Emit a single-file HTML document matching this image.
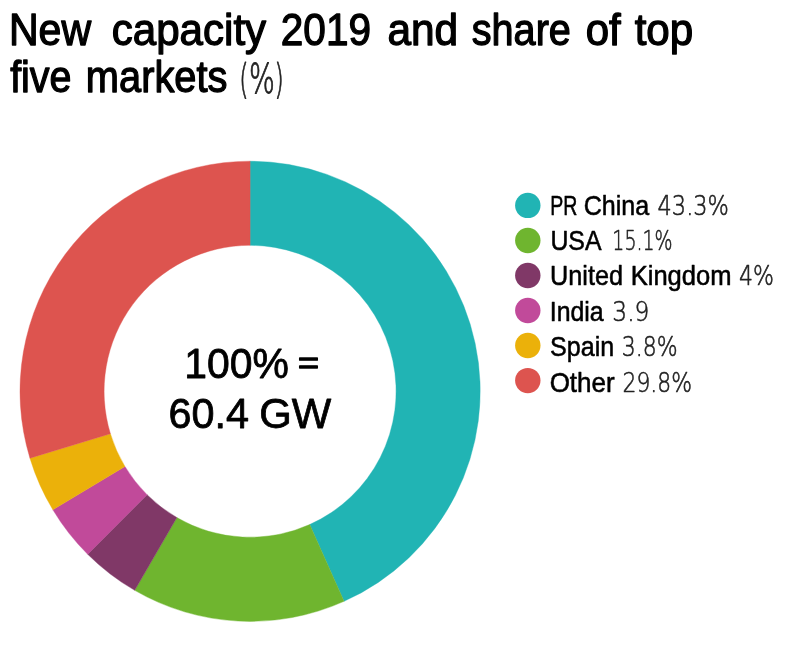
<!DOCTYPE html>
<html lang="en"><head><meta charset="utf-8"><title>New capacity 2019 and share of top five markets</title>
<style>
html,body{margin:0;padding:0;background:#fff;}
body{width:800px;height:647px;overflow:hidden;}
svg{display:block;}
.t{font-family:"Liberation Sans",Arial,Helvetica,sans-serif;font-weight:400;font-size:44.5px;fill:#000;stroke:#000;stroke-width:1.3px;stroke-linejoin:round;}
.p{font-family:"DejaVu Sans","Liberation Sans",Arial,Helvetica,sans-serif;font-weight:200;font-size:40.5px;fill:#222;stroke:#222;stroke-width:0.9px;stroke-linejoin:round;}
.c{font-family:"Liberation Sans",Arial,Helvetica,sans-serif;font-weight:400;font-size:42px;fill:#000;stroke:#000;stroke-width:0.8px;stroke-linejoin:round;}
.e{font-family:"Liberation Sans",Arial,Helvetica,sans-serif;font-weight:400;font-size:29.5px;fill:#000;stroke:#000;stroke-width:1.3px;stroke-linejoin:round;}
.m{font-family:"Liberation Sans",Arial,Helvetica,sans-serif;font-weight:400;font-size:27.8px;fill:#000;stroke:#000;stroke-width:0.55px;stroke-linejoin:round;}
.l{font-family:"DejaVu Sans","Liberation Sans",Arial,Helvetica,sans-serif;font-weight:200;font-size:27.4px;fill:#222;stroke:#222;stroke-width:0.6px;stroke-linejoin:round;}
</style></head>
<body>
<svg width="800" height="647" viewBox="0 0 800 647">
<rect width="800" height="647" fill="#fff"/>
<path d="M250.10 161.20A230.1 230.1 0 0 1 344.06 601.34L309.72 524.57A146.0 146.0 0 0 0 250.10 245.30Z" fill="#21B4B4" stroke="#21B4B4" stroke-width="0.4"/>
<path d="M344.06 601.34A230.1 230.1 0 0 1 134.70 590.37L176.88 517.61A146.0 146.0 0 0 0 309.72 524.57Z" fill="#6FB52F" stroke="#6FB52F" stroke-width="0.4"/>
<path d="M134.70 590.37A230.1 230.1 0 0 1 87.68 554.29L147.04 494.72A146.0 146.0 0 0 0 176.88 517.61Z" fill="#803867" stroke="#803867" stroke-width="0.4"/>
<path d="M87.68 554.29A230.1 230.1 0 0 1 52.87 509.81L124.95 466.50A146.0 146.0 0 0 0 147.04 494.72Z" fill="#C14A9A" stroke="#C14A9A" stroke-width="0.4"/>
<path d="M52.87 509.81A230.1 230.1 0 0 1 29.94 458.19L110.41 433.74A146.0 146.0 0 0 0 124.95 466.50Z" fill="#EBB10A" stroke="#EBB10A" stroke-width="0.4"/>
<path d="M29.94 458.19A230.1 230.1 0 0 1 250.10 161.20L250.10 245.30A146.0 146.0 0 0 0 110.41 433.74Z" fill="#DD544F" stroke="#DD544F" stroke-width="0.4"/>
<circle cx="527.8" cy="205.4" r="12.7" fill="#21B4B4"/>
<circle cx="527.8" cy="240.44" r="12.7" fill="#6FB52F"/>
<circle cx="527.8" cy="275.48" r="12.7" fill="#803867"/>
<circle cx="527.8" cy="310.52" r="12.7" fill="#C14A9A"/>
<circle cx="527.8" cy="345.56" r="12.7" fill="#EBB10A"/>
<circle cx="527.8" cy="380.6" r="12.7" fill="#DD544F"/>
<text><tspan x="8.88" y="44.7" textLength="82.17" lengthAdjust="spacingAndGlyphs" class="t">New</tspan> <tspan x="111.70" y="44.7" textLength="154.44" lengthAdjust="spacingAndGlyphs" class="t">capacity</tspan> <tspan x="280.83" y="44.7" textLength="90.11" lengthAdjust="spacingAndGlyphs" class="t">2019</tspan> <tspan x="387.45" y="44.7" textLength="70.77" lengthAdjust="spacingAndGlyphs" class="t">and</tspan> <tspan x="471.76" y="44.7" textLength="99.15" lengthAdjust="spacingAndGlyphs" class="t">share</tspan> <tspan x="585.71" y="44.7" textLength="35.04" lengthAdjust="spacingAndGlyphs" class="t">of</tspan> <tspan x="634.65" y="44.7" textLength="58.61" lengthAdjust="spacingAndGlyphs" class="t">top</tspan></text>
<text><tspan x="10.15" y="91.8" textLength="61.35" lengthAdjust="spacingAndGlyphs" class="t">five</tspan> <tspan x="85.86" y="91.8" textLength="141.61" lengthAdjust="spacingAndGlyphs" class="t">markets</tspan> <tspan x="239.20" y="93" textLength="9.28" lengthAdjust="spacingAndGlyphs" class="p">(</tspan> <tspan x="249.01" y="93" textLength="25.81" lengthAdjust="spacingAndGlyphs" class="p">%</tspan> <tspan x="274.40" y="93" textLength="9.28" lengthAdjust="spacingAndGlyphs" class="p">)</tspan></text>
<text><tspan x="184.28" y="378" textLength="104.63" lengthAdjust="spacingAndGlyphs" class="c">100%</tspan> <tspan x="298.13" y="373.1" textLength="21.02" lengthAdjust="spacingAndGlyphs" class="e">=</tspan></text>
<text><tspan x="168.43" y="427.6" textLength="80.52" lengthAdjust="spacingAndGlyphs" class="c">60.4</tspan> <tspan x="259.21" y="427.6" textLength="72.04" lengthAdjust="spacingAndGlyphs" class="c">GW</tspan></text>
<text><tspan x="550.17" y="214.5" textLength="27.11" lengthAdjust="spacingAndGlyphs" class="m">PR</tspan> <tspan x="583.67" y="214.5" textLength="65.46" lengthAdjust="spacingAndGlyphs" class="m">China</tspan> <tspan x="657.58" y="214.5" textLength="71.38" lengthAdjust="spacingAndGlyphs" class="l">43.3%</tspan></text>
<text><tspan x="550.39" y="249.6" textLength="51.13" lengthAdjust="spacingAndGlyphs" class="m">USA</tspan> <tspan x="612.32" y="249.6" textLength="60.28" lengthAdjust="spacingAndGlyphs" class="l">15.1%</tspan></text>
<text><tspan x="550.06" y="285.4" textLength="72.89" lengthAdjust="spacingAndGlyphs" class="m">United</tspan> <tspan x="630.69" y="285.4" textLength="100.80" lengthAdjust="spacingAndGlyphs" class="m">Kingdom</tspan> <tspan x="738.90" y="285.4" textLength="34.93" lengthAdjust="spacingAndGlyphs" class="l">4%</tspan></text>
<text><tspan x="549.74" y="320.6" textLength="53.91" lengthAdjust="spacingAndGlyphs" class="m">India</tspan> <tspan x="612.35" y="320.6" textLength="37.07" lengthAdjust="spacingAndGlyphs" class="l">3.9</tspan></text>
<text><tspan x="550.07" y="356.3" textLength="64.07" lengthAdjust="spacingAndGlyphs" class="m">Spain</tspan> <tspan x="621.70" y="356.3" textLength="55.83" lengthAdjust="spacingAndGlyphs" class="l">3.8%</tspan></text>
<text><tspan x="549.64" y="391.7" textLength="65.03" lengthAdjust="spacingAndGlyphs" class="m">Other</tspan> <tspan x="622.50" y="391.7" textLength="69.41" lengthAdjust="spacingAndGlyphs" class="l">29.8%</tspan></text>
</svg>
</body></html>
